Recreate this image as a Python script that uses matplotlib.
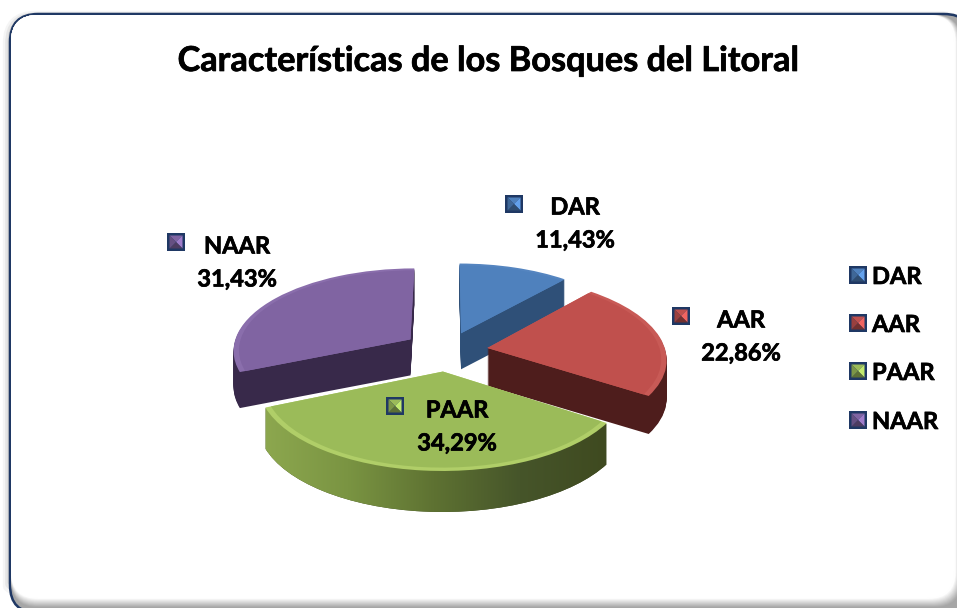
import numpy as np
import matplotlib
matplotlib.use("Agg")
import matplotlib.pyplot as plt
import matplotlib.patheffects as pe
from matplotlib.patches import FancyBboxPatch, Polygon, Rectangle
from matplotlib.path import Path
from matplotlib.transforms import Affine2D, Transform

# data
labels = ["DAR", "AAR", "PAAR", "NAAR"]
values = [11.43, 22.86, 34.29, 31.43]

# style
top_colors = ["#4F81BD", "#C0504D", "#9BBB59", "#8064A2"]
rim_colors = ["#5585C0", "#C85A56", "#B0CE68", "#8A6EAC"]
wall_colors = ["#2F5078", "#4E1D1C", "#3F4A20", "#38294A"]
explode = [0.23, 0.23, 0.25, 0.25]
depths = [36, 38, 41, 36]
draw_order = [0, 3, 1, 2]
navy = "#1F3864"
bold = [pe.withStroke(linewidth=0.5, foreground="black")]


class Perspective(Transform):
    """Tilted pie plane -> picture pixels, the back of the pie comes out smaller"""
    input_dims = output_dims = 2

    def transform_non_affine(self, values):
        xy = np.asarray(values, dtype=float)
        s = 1 / (1 + 0.12 * xy[:, 1])
        return np.column_stack([447 + 178 * xy[:, 0] * s, 350.5 - 82 * xy[:, 1] * s])


plt.rcParams["font.family"] = ["Lato", "DejaVu Sans"]
plt.rcParams["font.weight"] = "bold"

fig = plt.figure(figsize=(9.57, 6.08), dpi=100)
ax = fig.add_axes([0, 0, 1, 1])

persp = Perspective()


def pie_layer(colors, radius, shift, zbase):
    wedges, _ = ax.pie(values, explode=explode, colors=colors, radius=radius,
                       startangle=90, counterclock=False)
    for i, w in enumerate(wedges):
        w.set_transform(persp + Affine2D().translate(0, shift) + ax.transData)
        w.set_zorder(zbase + draw_order.index(i) * 100)
        w.set_linewidth(0)
    return wedges


# side walls, stacked from the bottom up
green_paths = []
for d in range(max(depths), 0, -1):
    wedges = pie_layer(wall_colors, 1.0, d, 5 + (max(depths) - d) * 0.5)
    for i, w in enumerate(wedges):
        if d > depths[i]:
            w.set_visible(False)
    if d <= depths[2]:
        green_paths.append(wedges[2])

# rim and top face
pie_layer(rim_colors, 1.0, 0, 50)
pie_layer(top_colors, 0.97, 0, 51)

ax.set_aspect("auto")
ax.set_xlim(0, 957)
ax.set_ylim(608, 0)
ax.axis("off")

# lighter left side on the front of the green wall
wall_verts = []
wall_codes = []
for w in green_paths:
    p = w.get_transform().transform_path(w.get_path())
    wall_verts.append(p.vertices)
    wall_codes.append(p.codes)
wall_clip = Path(np.concatenate(wall_verts), np.concatenate(wall_codes))
shade = np.linspace(0, 1, 256).reshape(1, -1)
grad = matplotlib.colors.LinearSegmentedColormap.from_list(
    "wall", ["#8DA84F", "#7A9442", "#5E7232", "#46552A", "#3F4A20"])
im = ax.imshow(shade, cmap=grad, extent=(262, 606, 520, 400), aspect="auto", zorder=345)
im.set_clip_path(wall_clip, Affine2D())
ax.set_xlim(0, 957)
ax.set_ylim(608, 0)


def bevel_key(cx, cy, color, zorder=400):
    h = 9
    ax.add_patch(Rectangle((cx - h, cy - h), 2 * h, 2 * h, fc=navy, ec="none", zorder=zorder))
    rgb = np.array(matplotlib.colors.to_rgb(color))
    i = h - 2.5
    corners = [(cx - i, cy - i), (cx + i, cy - i), (cx + i, cy + i), (cx - i, cy + i)]
    tones = [rgb, np.minimum(rgb * 1.25, 1), rgb * 0.6, rgb * 0.8]
    for k in range(4):
        ax.add_patch(Polygon([corners[k], corners[(k + 1) % 4], (cx, cy)], fc=tones[k],
                             ec="none", zorder=zorder + 1))


# frame, outer shadow on the left, inner shadow along the bottom and right
for off, alpha in zip([6, 4, 2], [0.08, 0.12, 0.2]):
    ax.add_patch(FancyBboxPatch((10 - off * 0.5, 15), 960, 593 + off,
                                boxstyle="round,pad=0,rounding_size=28", fc="none",
                                ec="#808080", lw=off, alpha=alpha, zorder=1))
ax.add_patch(FancyBboxPatch((10, 14), 962, 599, boxstyle="round,pad=0,rounding_size=28",
                            fc="#A6A6A6", ec=navy, lw=1.8, zorder=2))
for step in range(10):
    g = 0.68 + step * 0.035
    ax.add_patch(FancyBboxPatch((11, 15), 950 - step * 0.6, 592 - step * 0.9,
                                boxstyle="round,pad=0,rounding_size=27",
                                fc=(g, g, g), ec="none", zorder=2.1 + step * 0.01))
ax.add_patch(FancyBboxPatch((11, 15), 943, 583, boxstyle="round,pad=0,rounding_size=27",
                            fc="white", ec="none", zorder=2.5))

ax.text(488, 61, "Características de los Bosques del Litoral", fontsize=24.7,
        ha="center", va="center", color="black", zorder=500, path_effects=bold)

# data labels
label_pos = [(575, 207), (741, 320), (457, 410), (237, 246)]
key_pos = [(514, 204), (681, 316), (395, 406), (176, 242)]
for name, v, (x, y), (kx, ky), c in zip(labels, values, label_pos, key_pos, top_colors):
    ax.text(x, y, name, fontsize=17, ha="center", va="center", zorder=500, path_effects=bold)
    ax.text(x, y + 33, f"{v:.2f}".replace(".", ",") + "%", fontsize=17, ha="center",
            va="center", zorder=500, path_effects=bold)
    bevel_key(kx, ky, c)

# legend
legend_y = [275, 323, 371, 420]
for name, y, c in zip(labels, legend_y, top_colors):
    bevel_key(858, y, c)
    ax.text(872, y + 1.5, name, fontsize=17, ha="left", va="center", zorder=500, path_effects=bold)

fig.savefig("out.png", dpi=100)
